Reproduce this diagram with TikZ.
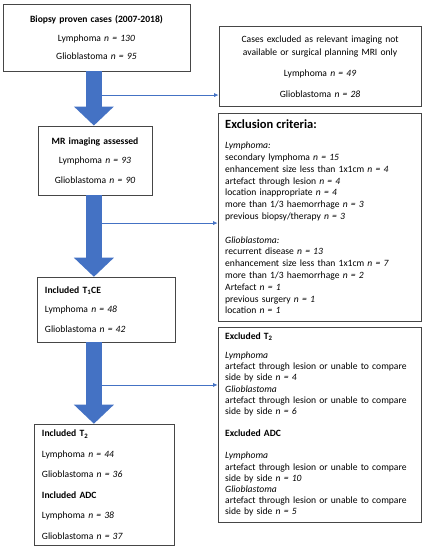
\documentclass[tikz,border=0pt]{standalone}
\usepackage{fontspec}
\setmainfont{Carlito}
\usepackage{tikz}
\usetikzlibrary{arrows.meta}
\definecolor{FlowBlue}{RGB}{68,114,196}
\definecolor{BoxGray}{RGB}{70,70,70}

\begin{document}
\begin{tikzpicture}[
          cbox/.style={rectangle, draw=BoxGray, line width=0.8pt, align=center,
                       inner xsep=0.25cm, font=\fontsize{9.6}{18.8}\selectfont},
          lbox/.style={rectangle, draw=BoxGray, line width=0.8pt, align=left,
                       inner xsep=0.25cm, font=\fontsize{9.6}{11.8}\selectfont},
          bigarr/.style={draw=FlowBlue, line width=16pt,
                         -{Triangle[width=40pt, length=19pt, line width=0pt]}},
          thinarr/.style={draw=FlowBlue, line width=0.8pt,
                          -{Latex[length=4.5pt, width=4pt]}}
        ]
        \useasboundingbox (0,0) rectangle (14.90,-19.33);

        % Main flow (left column)
        \node[cbox, text width=6.07cm, minimum height=2.35cm] (b1) at (3.39,-1.32)
              {\textbf{Biopsy proven cases (2007-2018)}\\
               Lymphoma \textit{n = 130}\\
               Glioblastoma \textit{n = 95}};
        \node[cbox, text width=3.51cm, minimum height=2.43cm,
              font=\fontsize{9.6}{19.5}\selectfont] (b2) at (3.34,-5.64)
              {\textbf{MR imaging assessed}\\
               Lymphoma \textit{n = 93}\\
               Glioblastoma \textit{n = 90}};
        \node[cbox, align=left, text width=4.32cm, minimum height=2.28cm,
              font=\fontsize{9.6}{19.5}\selectfont] (b3) at (3.74,-10.88)
              {\textbf{Included T\textsubscript{1}CE}\\
               Lymphoma \textit{n = 48}\\
               Glioblastoma \textit{n = 42}};
        \node[cbox, align=left, text width=4.39cm, minimum height=4.25cm,
              font=\fontsize{9.6}{20.5}\selectfont] (b4) at (3.67,-17.03)
              {\textbf{Included T\textsubscript{2}}\\
               Lymphoma \textit{n = 44}\\
               Glioblastoma \textit{n = 36}\\
               \textbf{Included ADC}\\
               Lymphoma \textit{n = 38}\\
               Glioblastoma \textit{n = 37}};

        % Exclusions (right column)
        \node[cbox, text width=6.60cm, minimum height=2.81cm,
              font=\fontsize{9.6}{13}\selectfont] (r1) at (11.25,-2.35)
              {Cases excluded as relevant imaging not\\
               available or surgical planning MRI only\\[8pt]
               Lymphoma \textit{n = 49}\\[8pt]
               Glioblastoma \textit{n = 28}};
        \node[lbox, text width=6.63cm, minimum height=7.31cm] (r2) at (11.23,-7.63)
              {{\fontsize{12.5}{14}\selectfont\textbf{Exclusion criteria:}}\\[8pt]
               \textit{Lymphoma:}\\
               secondary lymphoma \textit{n = 15}\\
               enhancement size less than 1x1cm \textit{n = 4}\\
               artefact through lesion \textit{n = 4}\\
               location inappropriate \textit{n = 4}\\
               more than 1/3 haemorrhage \textit{n = 3}\\
               previous biopsy/therapy \textit{n = 3}\\[11.8pt]
               \textit{Glioblastoma:}\\
               recurrent disease \textit{n = 13}\\
               enhancement size less than 1x1cm \textit{n = 7}\\
               more than 1/3 haemorrhage \textit{n = 2}\\
               Artefact \textit{n = 1}\\
               previous surgery \textit{n = 1}\\
               location \textit{n = 1}};
        \node[lbox, text width=6.63cm, minimum height=6.85cm,
              font=\fontsize{9.6}{11.2}\selectfont] (r3) at (11.23,-14.92)
              {\textbf{Excluded T\textsubscript{2}}\\[8pt]
               \textit{Lymphoma}\\
               artefact through lesion or unable to compare\\
               side by side \textit{n = 4}\\
               \textit{Glioblastoma}\\
               artefact through lesion or unable to compare\\
               side by side \textit{n = 6}\\[11pt]
               \textbf{Excluded ADC}\\[11pt]
               \textit{Lymphoma}\\
               artefact through lesion or unable to compare\\
               side by side \textit{n = 10}\\
               \textit{Glioblastoma}\\
               artefact through lesion or unable to compare\\
               side by side \textit{n = 5}};

        % Branch points on the main arrow
        \coordinate (col) at (3.30,0);
        \coordinate (j1) at (3.55,-3.34);
        \coordinate (j2) at (3.55,-7.84);
        \coordinate (j3) at (3.55,-13.53);

        % Side arrows to exclusions
        \draw[thinarr] (j1) -- (j1 -| r1.west);
        \draw[thinarr] (j2) -- (j2 -| r2.west);
        \draw[thinarr] (j3) -- (j3 -| r3.west);

        % Big flow arrows
        \draw[bigarr] (b1.south -| col) -- (b2.north -| col);
        \draw[bigarr] (b2.south -| col) -- (b3.north -| col);
        \draw[bigarr] (b3.south -| col) -- (b4.north -| col);
      \end{tikzpicture}
\end{document}
